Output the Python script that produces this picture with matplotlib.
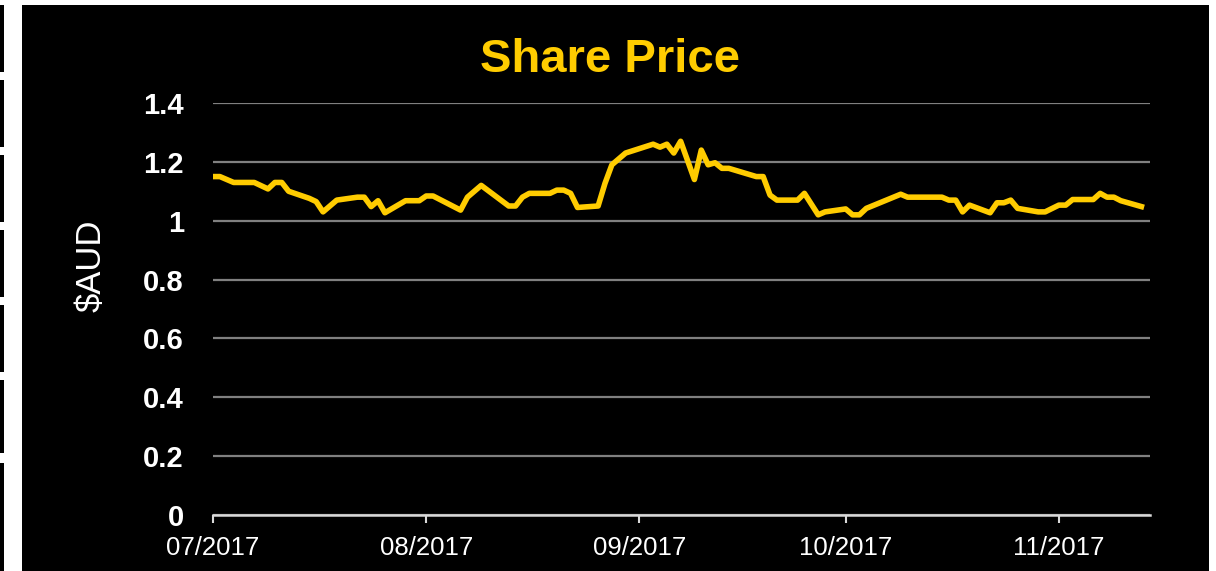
import matplotlib
matplotlib.use("Agg")
import matplotlib.pyplot as plt
import matplotlib.dates as mdates
from matplotlib.patches import Rectangle
import pandas as pd

plt.rcParams['font.family'] = ['Liberation Sans', 'DejaVu Sans']

# share price readings (approx)
dates = ["2017-07-01", "2017-07-02", "2017-07-04", "2017-07-07", "2017-07-09",
         "2017-07-10", "2017-07-11", "2017-07-12", "2017-07-15", "2017-07-16",
         "2017-07-17", "2017-07-19", "2017-07-22", "2017-07-23", "2017-07-24",
         "2017-07-25", "2017-07-26", "2017-07-29", "2017-07-31", "2017-08-01",
         "2017-08-02", "2017-08-06", "2017-08-07", "2017-08-09", "2017-08-13",
         "2017-08-14", "2017-08-15", "2017-08-16", "2017-08-19", "2017-08-20",
         "2017-08-21", "2017-08-22", "2017-08-23", "2017-08-26", "2017-08-27",
         "2017-08-28", "2017-08-30", "2017-09-03", "2017-09-04", "2017-09-05",
         "2017-09-06", "2017-09-07", "2017-09-09", "2017-09-10", "2017-09-11",
         "2017-09-12", "2017-09-13", "2017-09-14", "2017-09-18", "2017-09-19",
         "2017-09-20", "2017-09-21", "2017-09-24", "2017-09-25", "2017-09-27",
         "2017-09-28", "2017-10-01", "2017-10-02", "2017-10-03", "2017-10-04",
         "2017-10-09", "2017-10-10", "2017-10-15", "2017-10-16", "2017-10-17",
         "2017-10-18", "2017-10-19", "2017-10-22", "2017-10-23", "2017-10-24",
         "2017-10-25", "2017-10-26", "2017-10-29", "2017-10-30", "2017-11-01",
         "2017-11-02", "2017-11-03", "2017-11-06", "2017-11-07", "2017-11-08",
         "2017-11-09", "2017-11-10", "2017-11-13"]
prices = [1.15, 1.15, 1.13, 1.13, 1.108,
          1.13, 1.13, 1.10, 1.076, 1.065,
          1.03, 1.07, 1.08, 1.08, 1.048,
          1.068, 1.027, 1.068, 1.068, 1.084,
          1.084, 1.036, 1.08, 1.12, 1.05,
          1.05, 1.08, 1.093, 1.093, 1.104,
          1.104, 1.093, 1.045, 1.05, 1.127,
          1.19, 1.23, 1.26, 1.25, 1.26,
          1.23, 1.27, 1.14, 1.24, 1.19,
          1.197, 1.178, 1.178, 1.15, 1.15,
          1.087, 1.07, 1.07, 1.093, 1.02,
          1.03, 1.04, 1.02, 1.02, 1.042,
          1.09, 1.08, 1.08, 1.07, 1.07,
          1.03, 1.053, 1.027, 1.061, 1.061,
          1.07, 1.042, 1.03, 1.03, 1.053,
          1.053, 1.072, 1.072, 1.093, 1.08,
          1.08, 1.068, 1.048]
yticks = [0, 0.2, 0.4, 0.6, 0.8, 1, 1.2, 1.4]
ytick_labels = ["0", "0.2", "0.4", "0.6", "0.8", "1", "1.2", "1.4"]

gold = '#FFCC00'
W, H = 1216, 571

fig = plt.figure(figsize=(W / 100, H / 100), dpi=100, facecolor='white')

# black slide panel + the little black marks on the left edge
fig.patches.append(Rectangle((22 / W, 0), (1209 - 22) / W, (H - 5) / H,
                             transform=fig.transFigure, facecolor='black',
                             edgecolor='none', zorder=-5))
for y0, y1 in [(5, 72), (80, 147), (155, 222), (230, 297), (305, 372), (380, 453), (463, 571)]:
    fig.patches.append(Rectangle((0, 1 - y1 / H), 4 / W, (y1 - y0) / H,
                                 transform=fig.transFigure, facecolor='black',
                                 edgecolor='none', zorder=-5))

ax = fig.add_axes([213 / W, 1 - 515 / H, (1150 - 213) / W, (515 - 103) / H])
ax.set_facecolor('none')
ax.set_zorder(2)

x = pd.to_datetime(dates)
ax.plot(x, prices, color=gold, linewidth=4, solid_joinstyle='round', zorder=3)

ax.set_ylim(0, 1.4)
ax.set_xlim(pd.Timestamp("2017-07-01"), pd.Timestamp("2017-11-14 06:00"))
ax.set_yticks(yticks)
ax.set_yticklabels(ytick_labels, fontsize=21, fontweight='bold', color='white')
ax.yaxis.grid(True, color='#808080', linewidth=1.6)
ax.set_axisbelow(True)

ax.xaxis.set_major_locator(mdates.MonthLocator())
ax.xaxis.set_major_formatter(mdates.DateFormatter('%m/%Y'))
ax.tick_params(axis='x', colors='#D9D9D9', length=6, width=1.5, labelsize=18.5,
               labelcolor='white', pad=9)
ax.tick_params(axis='y', length=0, pad=21)

for s in ['top', 'right', 'left']:
    ax.spines[s].set_visible(False)
ax.spines['bottom'].set_color('#D9D9D9')
ax.spines['bottom'].set_linewidth(1.8)
ax.spines['bottom'].set_zorder(2)

ax.set_ylabel('$AUD', fontsize=25, color='white')
ax.yaxis.set_label_coords(-0.112, 0.605)

fig.text(610 / W, 1 - 60 / H, 'Share Price', color=gold, fontsize=34,
         fontweight='bold', ha='center', va='center')

fig.savefig('out.png', dpi=100, facecolor=fig.get_facecolor())
